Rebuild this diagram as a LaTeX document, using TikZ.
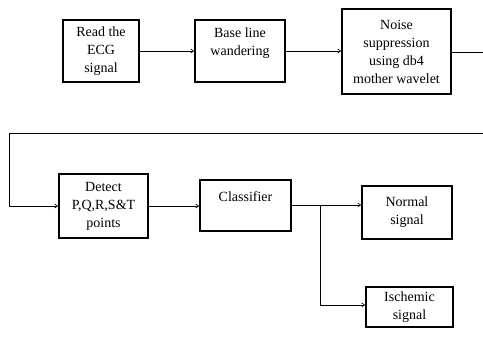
\documentclass[tikz,border=0pt]{standalone}
\usepackage{fontspec}
\setmainfont{Liberation Serif}
\usetikzlibrary{arrows.meta}

\begin{document}
\begin{tikzpicture}[x=1pt, y=-1pt,
        stage/.style={draw, line width=1.6pt, align=center, inner sep=0pt,
            font=\fontsize{14}{18}\selectfont},
        flow/.style={line width=0.6pt, -{Straight Barb[length=3pt,width=4pt]}}]
        \useasboundingbox (0,0) rectangle (483,338);
        % first row
        \node[stage, minimum width=76, minimum height=62] (read) at (101,51) {Read the\\ECG\\signal};
        \node[stage, minimum width=90, minimum height=62] (base) at (240,51) {Base line\\wandering\\\mbox{}};
        \node[stage, minimum width=109, minimum height=85] (noise) at (396.5,51.5) {Noise\\suppression\\using db4\\mother wavelet};
        % second row
        \node[stage, minimum width=89, minimum height=64] (detect) at (103.5,206) {Detect\\P,Q,R,S\&T\\points};
        \node[stage, minimum width=91, minimum height=51] (class) at (245.5,205.5) {Classifier\\\mbox{}};
        \node[stage, minimum width=90, minimum height=53] (normal) at (407,212.5) {Normal\\signal};
        \node[stage, minimum width=87, minimum height=40] (isch) at (409.5,307) {Ischemic\\signal};
        \coordinate (outR) at (483,52);
        \coordinate (inR) at (483,133);
        \coordinate (turn) at (9,133);
        \coordinate (split) at (320,205);
        \draw[flow] (read) -- (base);
        \draw[flow] (base) -- (base -| noise.west);
        \draw[line width=0.6pt] (noise.east |- outR) -- (outR);
        \draw[flow] (inR) -- (turn) |- (detect.west);
        \draw[flow] (detect) -- (class.west |- detect);
        \draw[flow] (class.east |- split) -- (normal.west |- split);
        \draw[flow] (split) |- (isch.west |- 0,305);
    \end{tikzpicture}
\end{document}
